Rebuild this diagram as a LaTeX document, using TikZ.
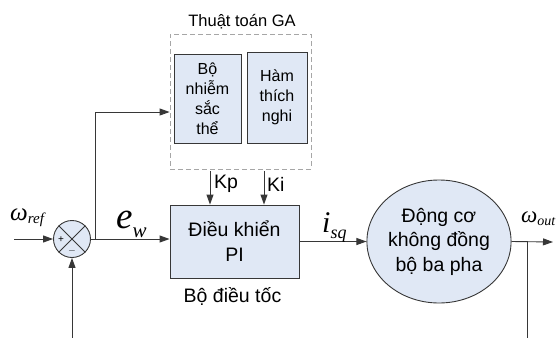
\documentclass[tikz,border=0pt]{standalone}
\usepackage{fontspec}
\setmainfont{Liberation Sans}
\newfontfamily\tms{Liberation Serif}
\usetikzlibrary{arrows.meta,shapes.geometric}
\definecolor{boxfill}{RGB}{224,232,245}
\definecolor{edge}{RGB}{55,55,55}
\tikzset{
 blk/.style={draw=edge, fill=boxfill, line width=0.9pt, align=center, inner sep=0pt},
 conn/.style={draw=edge, line width=0.9pt, -{Triangle[length=10pt,width=7pt]}},
 wire/.style={draw=edge, line width=0.9pt},
 lbl/.style={inner sep=0pt},
}
\begin{document}
\begin{tikzpicture}[x=1pt,y=-1pt]
\useasboundingbox (0,0) rectangle (558,338);
% GA group
\node[draw=gray!70, dash pattern=on 5pt off 3pt, line width=0.8pt, minimum width=141pt, minimum height=135pt, inner sep=0pt] (ga) at (240.5,101.5) {};
\node[lbl, font=\fontsize{16.5}{18}\selectfont] (gat) at (242,22) {Thuật toán GA};
\node[blk, minimum width=67pt, minimum height=89pt, font=\fontsize{16}{20}\selectfont] (nst) at (207.5,98.5) {Bộ\\nhiễm\\sắc\\thể};
\node[blk, minimum width=60pt, minimum height=91pt, font=\fontsize{16}{20}\selectfont] (ham) at (277,97.5) {Hàm\\thích\\nghi};
% PI controller
\node[blk, minimum width=129pt, minimum height=73pt, font=\fontsize{19.5}{25}\selectfont] (pi) at (234.5,241.5) {Điều khiển\\PI};
\node[lbl, font=\fontsize{19.5}{20}\selectfont] (bdt) at (232.5,296) {Bộ điều tốc};
% motor
\node[blk, ellipse, minimum width=138pt, minimum height=123pt, font=\fontsize{19.5}{24.5}\selectfont] (mot) at (439,241.5) {Động cơ\\không đồng\\bộ ba pha};
% summing junction
\node[draw=edge, fill=boxfill, circle, line width=0.9pt, minimum size=37pt, inner sep=0pt] (sum) at (72,239) {};
\draw[wire] (sum.north west) -- (sum.south east);
\draw[wire] (sum.north east) -- (sum.south west);
\node[lbl, font=\fontsize{10}{10}\selectfont] (plus) at (61,240) {+};
\node[lbl, font=\fontsize{10}{10}\selectfont] (minus) at (72,250.5) {$-$};
% coordinates
\coordinate (in0) at (14,239);
\coordinate (br) at (95,239);
\coordinate (fb0) at (72,338);
\coordinate (kp0) at (210,171);
\coordinate (ki0) at (264,171);
\coordinate (outend) at (553,242);
\coordinate (tap) at (527,242);
\coordinate (fbend) at (527,338);
% connectors
\draw[conn] (in0) -- (sum.west);
\draw[conn] (fb0) -- (sum.south);
\draw[conn] (sum.east) -- (pi.west |- sum.east);
\draw[conn] (br) |- (ga.west |- 0,112);
\draw[conn] (kp0) -- (kp0 |- pi.north);
\draw[conn] (ki0) -- (ki0 |- pi.north);
\draw[conn] (pi.east) -- (mot.west);
\draw[conn] (mot.east) -- (outend);
\draw[wire] (tap) -- (fbend);
% labels
\node[lbl, font=\fontsize{19.5}{20}\selectfont, anchor=west] (kp) at (214,184) {Kp};
\node[lbl, font=\fontsize{19.5}{20}\selectfont, anchor=west] (ki) at (267,184) {Ki};
\node[lbl, anchor=base west] (wref) at (10,220) {\tms\itshape\fontsize{25}{25}\selectfont ω\raisebox{-3pt}{\fontsize{15}{15}\selectfont ref}};
\node[lbl, anchor=base west] (ew) at (116,228) {\tms\itshape\fontsize{37}{37}\selectfont e\raisebox{-9pt}{\fontsize{21}{21}\selectfont w}};
\node[lbl, anchor=base west] (isq) at (322,232) {\tms\itshape\fontsize{30}{30}\selectfont i\raisebox{-6pt}{\fontsize{18}{18}\selectfont sq}};
\node[lbl, anchor=base west] (wout) at (521,222) {\tms\itshape\fontsize{23}{23}\selectfont ω\raisebox{-3pt}{\fontsize{14}{14}\selectfont out}};
\end{tikzpicture}
\end{document}
